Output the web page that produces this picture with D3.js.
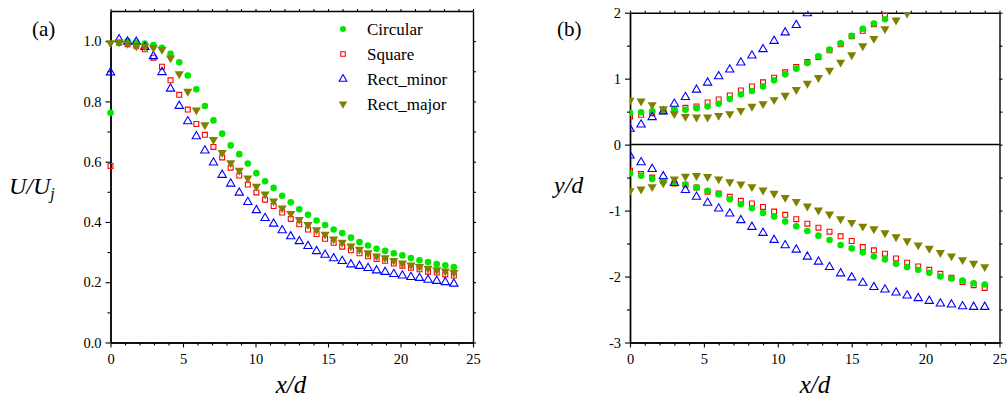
<!DOCTYPE html>
<html>
<head>
<meta charset="utf-8">
<script src="https://cdn.jsdelivr.net/npm/d3@7/dist/d3.min.js"></script>
<style>
svg text, svg tspan { font-family: 'Liberation Serif' !important; }
</style>
</head>
<body style="margin:0">
<script>
// ---- data ----
var seriesNames = ["Circular", "Square", "Rect_minor", "Rect_major"];

// panel (a) : U/Uj along x/d
var xA = [0, 0.59, 1.18, 1.78, 2.37, 2.96, 3.55, 4.14, 4.74, 5.33, 5.92, 6.51, 7.10, 7.70, 8.29, 8.88,
	9.47, 10.06, 10.66, 11.25, 11.84, 12.43, 13.02, 13.62, 14.21, 14.80, 15.39, 15.98, 16.58, 17.17,
	17.76, 18.35, 18.94, 19.54, 20.13, 20.72, 21.31, 21.90, 22.50, 23.09, 23.68];
var circularA = [0.762, 0.995, 1.000, 0.995, 0.992, 0.987, 0.978, 0.958, 0.930, 0.886, 0.840, 0.785,
	0.737, 0.693, 0.654, 0.625, 0.594, 0.562, 0.535, 0.513, 0.487, 0.465, 0.442, 0.424, 0.405, 0.390,
	0.375, 0.363, 0.348, 0.333, 0.322, 0.311, 0.304, 0.296, 0.289, 0.280, 0.273, 0.267, 0.260, 0.256, 0.250];
var squareA = [0.586, 0.995, 0.990, 0.985, 0.973, 0.945, 0.915, 0.870, 0.822, 0.773, 0.725, 0.689,
	0.649, 0.614, 0.580, 0.554, 0.524, 0.498, 0.474, 0.453, 0.431, 0.410, 0.392, 0.375, 0.360, 0.344,
	0.331, 0.318, 0.306, 0.296, 0.286, 0.277, 0.271, 0.262, 0.255, 0.248, 0.243, 0.235, 0.232, 0.226, 0.222];
var rectMinorA = [0.896, 1.006, 0.998, 0.998, 0.980, 0.950, 0.897, 0.842, 0.785, 0.734, 0.684, 0.637,
	0.597, 0.556, 0.527, 0.497, 0.466, 0.439, 0.413, 0.394, 0.372, 0.352, 0.336, 0.320, 0.303, 0.291,
	0.279, 0.270, 0.259, 0.254, 0.247, 0.239, 0.234, 0.227, 0.222, 0.217, 0.214, 0.208, 0.204, 0.200, 0.195];
var rectMajorA = [0.994, 0.997, 0.992, 0.983, 0.983, 0.978, 0.972, 0.944, 0.891, 0.833, 0.771, 0.722,
	0.673, 0.630, 0.596, 0.571, 0.545, 0.518, 0.492, 0.469, 0.446, 0.428, 0.408, 0.391, 0.374, 0.359,
	0.343, 0.332, 0.320, 0.309, 0.297, 0.287, 0.281, 0.272, 0.263, 0.257, 0.252, 0.246, 0.241, 0.237, 0.232];

// panel (b) : upper and lower half-width positions y/d
var xB = [0, 0.75, 1.5, 2.25, 3, 3.75, 4.5, 5.25, 6, 6.75, 7.5, 8.25, 9, 9.75, 10.5, 11.25, 12, 12.75,
	13.5, 14.25, 15, 15.75, 16.5, 17.25, 18, 18.75, 19.5, 20.25, 21, 21.75, 22.5, 23.25, 24];
var circularUpB = [0.482, 0.492, 0.507, 0.517, 0.528, 0.528, 0.553, 0.578, 0.619, 0.690, 0.761, 0.812,
	0.883, 0.974, 1.065, 1.152, 1.238, 1.339, 1.441, 1.537, 1.649, 1.756, 1.837, 1.900];
var squareUpB = [0.426, 0.452, 0.477, 0.502, 0.533, 0.558, 0.578, 0.639, 0.685, 0.746, 0.822, 0.883,
	0.944, 1.015, 1.096, 1.177, 1.253, 1.329, 1.431, 1.522, 1.644, 1.725, 1.826, 1.953];
var rectMinorUpB = [0.239, 0.304, 0.416, 0.502, 0.619, 0.720, 0.832, 0.939, 1.035, 1.137, 1.243, 1.350,
	1.446, 1.572, 1.700, 1.811, 1.990];
var rectMajorUpB = [0.670, 0.659, 0.604, 0.543, 0.467, 0.426, 0.416, 0.416, 0.441, 0.467, 0.517, 0.578,
	0.619, 0.680, 0.746, 0.832, 0.928, 1.015, 1.126, 1.248, 1.359, 1.496, 1.608, 1.756, 1.887, 1.990];
var circularLoB = [-0.436, -0.472, -0.522, -0.553, -0.583, -0.609, -0.649, -0.700, -0.751, -0.827, -0.903,
	-0.964, -1.035, -1.091, -1.167, -1.238, -1.309, -1.380, -1.446, -1.522, -1.573, -1.634, -1.695, -1.740,
	-1.807, -1.857, -1.898, -1.944, -2.000, -2.030, -2.060, -2.101, -2.121];
var squareLoB = [-0.396, -0.446, -0.500, -0.550, -0.590, -0.610, -0.650, -0.715, -0.741, -0.791, -0.852,
	-0.893, -0.944, -1.015, -1.065, -1.131, -1.198, -1.259, -1.320, -1.390, -1.461, -1.553, -1.603, -1.654,
	-1.725, -1.791, -1.847, -1.898, -1.959, -2.020, -2.081, -2.131, -2.172];
var rectMinorLoB = [-0.167, -0.269, -0.370, -0.482, -0.583, -0.690, -0.791, -0.883, -0.969, -1.045, -1.146,
	-1.248, -1.339, -1.446, -1.527, -1.593, -1.700, -1.776, -1.857, -1.953, -2.014, -2.096, -2.161, -2.197,
	-2.243, -2.289, -2.329, -2.370, -2.410, -2.425, -2.451, -2.461, -2.461];
var rectMajorLoB = [-0.700, -0.675, -0.639, -0.583, -0.522, -0.482, -0.472, -0.487, -0.522, -0.565, -0.598,
	-0.639, -0.690, -0.741, -0.802, -0.863, -0.933, -0.994, -1.055, -1.126, -1.182, -1.238, -1.279, -1.339,
	-1.400, -1.461, -1.522, -1.573, -1.639, -1.689, -1.746, -1.801, -1.852];

// tick values
var xMajorTicks = [0, 5, 10, 15, 20, 25];
var xMinorTicks = [1, 2, 3, 4, 6, 7, 8, 9, 11, 12, 13, 14, 16, 17, 18, 19, 21, 22, 23, 24];
var xAllTicks = [0, 1, 2, 3, 4, 5, 6, 7, 8, 9, 10, 11, 12, 13, 14, 15, 16, 17, 18, 19, 20, 21, 22, 23, 24, 25];
var yMajorTicksA = [0, 0.2, 0.4, 0.6, 0.8, 1.0];
var yMinorTicksA = [0.1, 0.3, 0.5, 0.7, 0.9];
var yMajorTicksB = [-3, -2, -1, 0, 1, 2];
var yMinorTicksB = [-2.5, -1.5, -0.5, 0.5, 1.5];
var yLabelsB = ["-3", "-2", "-1", "0", "1", "2"];

var fontName = "'Liberation Serif'";

// ---- marker styles ----
var markerStyle = {
	"Circular": { type: d3.symbolCircle, size: 34, fill: "#00e600", stroke: "none", rotate: 0 },
	"Square": { type: d3.symbolSquare, size: 24, fill: "none", stroke: "#ff0000", rotate: 0 },
	"Rect_minor": { type: d3.symbolTriangle, size: 30, fill: "none", stroke: "#0000ff", rotate: 0 },
	"Rect_major": { type: d3.symbolTriangle, size: 36, fill: "#808000", stroke: "none", rotate: 180 }
};
var drawOrder = ["Square", "Circular", "Rect_minor", "Rect_major"];

var svg = d3.select('body')
	.append('svg')
	.attr('width', 1008)
	.attr('height', 401)
	.style('font-family', fontName);

function toPoints(xs, ys) {
	return ys.map(function (v, i) { return { x: xs[i], y: v }; });
}

function drawMarkers(g, pts, name, xScale, yScale) {
	var st = markerStyle[name];
	g.selectAll(null)
		.data(pts)
		.enter().append('path')
		.attr('d', d3.symbol().type(st.type).size(st.size))
		.attr('transform', function (d) {
			return 'translate(' + xScale(d.x) + ',' + yScale(d.y) + ') rotate(' + st.rotate + ')';
		})
		.attr('fill', st.fill)
		.attr('stroke', st.stroke)
		.attr('stroke-width', 1.1);
}

function styleAxis(sel) {
	sel.attr('font-family', null).attr('font-size', null);
	sel.selectAll('path').attr('stroke', '#000').attr('stroke-width', 1.4);
	sel.selectAll('line').attr('stroke', '#000').attr('stroke-width', 1.1);
	sel.selectAll('text')
		.attr('fill', '#000')
		.style('font', "14.5px 'Liberation Serif'");
}

// draw frame, ticks and labels of one panel
function drawFrame(p) {
	var g = svg.append('g');
	var xs = p.x, ys = p.y;
	var r = xs.range(), t = ys.range();

	// bottom
	g.append('g').attr('transform', 'translate(0,' + t[0] + ')')
		.call(d3.axisBottom(xs).tickValues(xMinorTicks).tickSize(3).tickFormat('').tickSizeOuter(0))
		.call(styleAxis);
	g.append('g').attr('transform', 'translate(0,' + t[0] + ')')
		.call(d3.axisBottom(xs).tickValues(xMajorTicks).tickSize(5).tickPadding(6).tickSizeOuter(0))
		.call(styleAxis);
	// left
	g.append('g').attr('transform', 'translate(' + r[0] + ',0)')
		.call(d3.axisLeft(ys).tickValues(p.yMinor).tickSize(3).tickFormat('').tickSizeOuter(0))
		.call(styleAxis);
	g.append('g').attr('transform', 'translate(' + r[0] + ',0)')
		.call(d3.axisLeft(ys).tickValues(p.yMajor).tickSize(5).tickPadding(4).tickFormat(p.fmt).tickSizeOuter(0))
		.call(styleAxis);
	// top and right, no labels
	g.append('g').attr('transform', 'translate(0,' + t[1] + ')')
		.call(d3.axisTop(xs).tickValues(xAllTicks).tickSize(2).tickFormat('').tickSizeOuter(0))
		.call(styleAxis);
	g.append('g').attr('transform', 'translate(' + r[1] + ',0)')
		.call(d3.axisRight(ys).tickValues(p.yMajor.concat(p.yMinor)).tickSize(3).tickFormat('').tickSizeOuter(0))
		.call(styleAxis);
	return g;
}

function addText(x, y, size, str, italic, anchor) {
	return svg.append('text')
		.attr('x', x).attr('y', y)
		.attr('text-anchor', anchor || 'start')
		.style('font', (italic ? 'italic ' : '') + size + "px 'Liberation Serif'")
		.attr('fill', '#000')
		.text(str);
}

// ---- panel (a) ----
var xScaleA = d3.scaleLinear().domain([0, 25]).range([110.5, 473]);
var yScaleA = d3.scaleLinear().domain([0, 1.1]).range([342.5, 11]);

drawFrame({ x: xScaleA, y: yScaleA, yMajor: yMajorTicksA, yMinor: yMinorTicksA, fmt: d3.format('.1f') });

var plotA = svg.append('g');
var dataA = {
	"Circular": toPoints(xA, circularA),
	"Square": toPoints(xA, squareA),
	"Rect_minor": toPoints(xA, rectMinorA),
	"Rect_major": toPoints(xA, rectMajorA)
};
drawOrder.forEach(function (n) { drawMarkers(plotA, dataA[n], n, xScaleA, yScaleA); });

// legend
var legend = svg.append('g').attr('transform', 'translate(343,29)');
seriesNames.forEach(function (n, i) {
	var st = markerStyle[n];
	legend.append('path')
		.attr('d', d3.symbol().type(st.type).size(st.size * 0.85))
		.attr('transform', 'translate(0,' + (i * 25) + ') rotate(' + st.rotate + ')')
		.attr('fill', st.fill)
		.attr('stroke', st.stroke)
		.attr('stroke-width', 1.1);
});
seriesNames.forEach(function (n, i) {
	addText(367, 29 + i * 25 + 5.5, 17, n, false);
});

// ---- panel (b) ----
var xScaleB = d3.scaleLinear().domain([0, 25]).range([630, 999.5]);
var yScaleB = d3.scaleLinear().domain([-3, 2]).range([342.5, 12.7]);

drawFrame({ x: xScaleB, y: yScaleB, yMajor: yMajorTicksB, yMinor: yMinorTicksB,
	fmt: function (d) { return yLabelsB[yMajorTicksB.indexOf(d)]; } });

// zero line
svg.append('line')
	.attr('x1', xScaleB(0)).attr('x2', xScaleB(25))
	.attr('y1', yScaleB(0)).attr('y2', yScaleB(0))
	.attr('stroke', '#000').attr('stroke-width', 1.5);

svg.append('clipPath').attr('id', 'clipB')
	.append('rect')
	.attr('x', xScaleB(0)).attr('y', yScaleB(2))
	.attr('width', xScaleB(25) - xScaleB(0))
	.attr('height', yScaleB(-3) - yScaleB(2));

var plotB = svg.append('g').attr('clip-path', 'url(#clipB)');
var dataB = {
	"Circular": toPoints(xB, circularUpB).concat(toPoints(xB, circularLoB)),
	"Square": toPoints(xB, squareUpB).concat(toPoints(xB, squareLoB)),
	"Rect_minor": toPoints(xB, rectMinorUpB).concat(toPoints(xB, rectMinorLoB)),
	"Rect_major": toPoints(xB, rectMajorUpB).concat(toPoints(xB, rectMajorLoB))
};
drawOrder.forEach(function (n) { drawMarkers(plotB, dataB[n], n, xScaleB, yScaleB); });

// ---- titles and axis names ----
addText(32, 36, 21, '(a)', false);
addText(557, 36, 21, '(b)', false);
addText(291, 393, 25, 'x/d', true, 'middle');
addText(815, 393, 25, 'x/d', true, 'middle');

var uLabel = addText(9, 194, 24, 'U/U', true);
uLabel.append('tspan').attr('dy', 5).style('font-size', '16px').text('j');

addText(554, 193, 24, 'y/d', true);
</script>
</body>
</html>
